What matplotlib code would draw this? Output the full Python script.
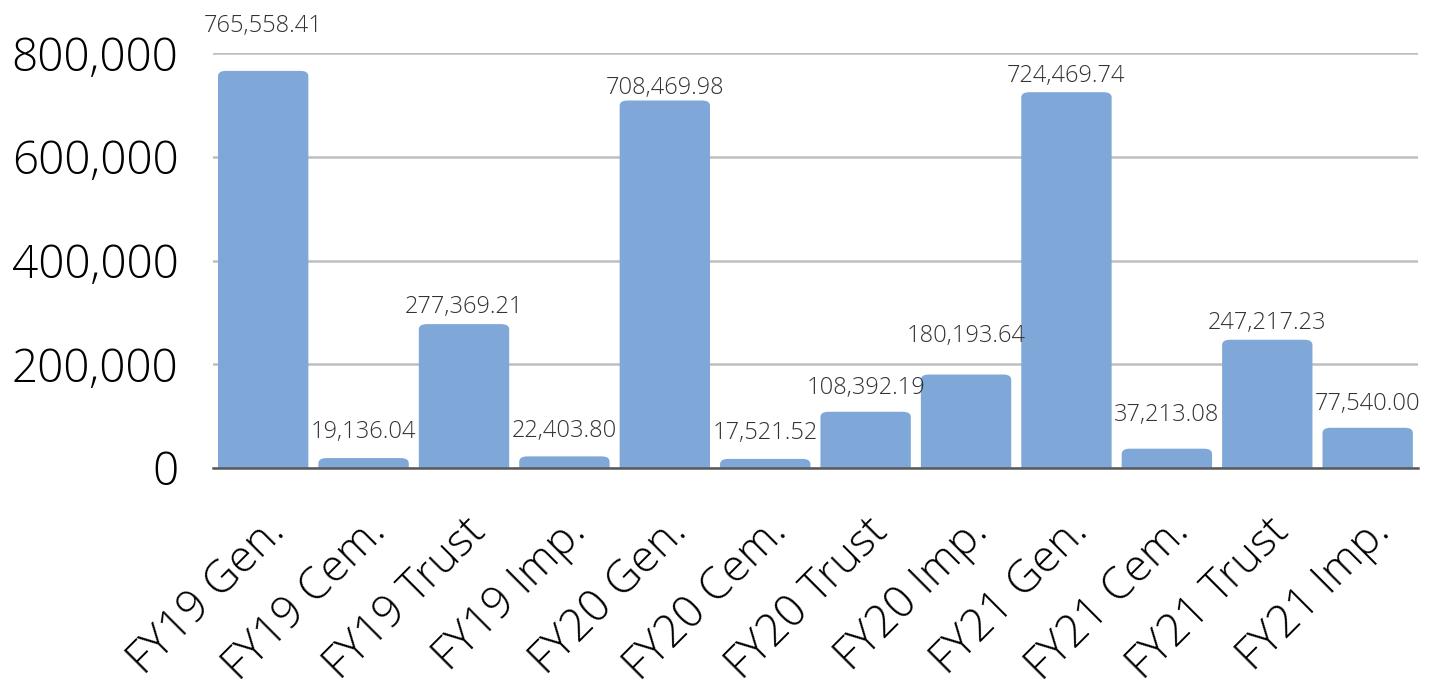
import numpy as np
import matplotlib.pyplot as plt
from matplotlib.patches import FancyBboxPatch

# === Data ===
categories = ["FY19 Gen.", "FY19 Cem.", "FY19 Trust", "FY19 Imp.",
              "FY20 Gen.", "FY20 Cem.", "FY20 Trust", "FY20 Imp.",
              "FY21 Gen.", "FY21 Cem.", "FY21 Trust", "FY21 Imp."]
values = [765558.41, 19136.04, 277369.21, 22403.80,
          708469.98, 17521.52, 108392.19, 180193.64,
          724469.74, 37213.08, 247217.23, 77540.00]
yticks = [0, 200000, 400000, 600000, 800000]

# label centre height above each bar (points), the source shuffles them to avoid overlaps
label_lift = [32, 19, 12, 18, 9, 19, 17, 28, 12, 24, 12, 17]

plt.rcParams['font.family'] = ['Open Sans', 'DejaVu Sans']

fig = plt.figure(figsize=(14.43, 6.84), dpi=100)
ax = fig.add_axes([0.1476, 0.3158, 0.835, 0.6067])

x = np.arange(len(categories))
bars = ax.bar(x, values, width=0.9, color="#7fa8d9", zorder=3)

# swap plain bars for slightly rounded ones
for b in bars:
    b.set_visible(False)
    rp = FancyBboxPatch((b.get_x(), -20000), b.get_width(), b.get_height() + 20000,
                        boxstyle="round,pad=0,rounding_size=0.08",
                        mutation_aspect=125000,
                        facecolor="#7fa8d9", edgecolor="none", zorder=3)
    ax.add_patch(rp)

for xi, v, lift in zip(x, values, label_lift):
    ax.annotate(f"{v:,.2f}", (xi, v), xytext=(0, lift), textcoords="offset points",
                ha="center", va="center", fontsize=17, color="#333333",
                fontweight="light", annotation_clip=False, zorder=4)

ax.set_xlim(-0.5, len(categories) - 0.5)
ax.set_ylim(0, 800000)
ax.set_yticks(yticks)
ax.set_yticklabels([f"{t:,}" for t in yticks], fontsize=33, fontweight="light")
ax.set_xticks(x)
ax.set_xticklabels(categories, rotation=45, ha="right", rotation_mode="anchor",
                   fontsize=32, fontweight="light")
ax.tick_params(axis="both", length=0)
ax.tick_params(axis="y", pad=25)
ax.tick_params(axis="x", pad=30)

ax.grid(axis="y", color="#bfbfbf", linewidth=1.8, zorder=0)
for s in ["top", "right", "left"]:
    ax.spines[s].set_visible(False)
ax.spines["bottom"].set_color("#595959")
ax.spines["bottom"].set_linewidth(1.8)
ax.spines["bottom"].set_zorder(5)

fig.savefig("out.png", dpi=100)
